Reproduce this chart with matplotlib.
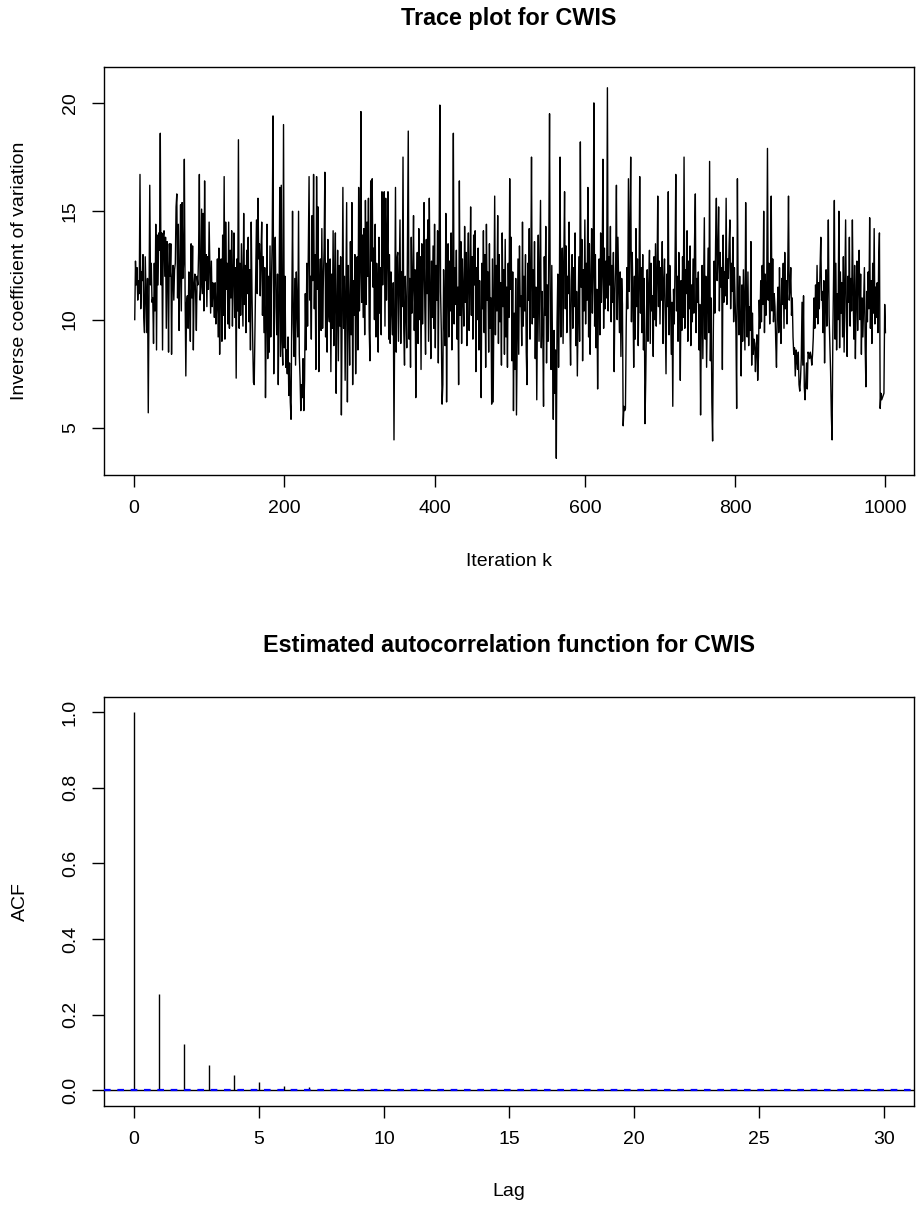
import numpy as np
import matplotlib
matplotlib.use("Agg")
import matplotlib.pyplot as plt

plt.rcParams['font.family'] = ['Liberation Sans', 'DejaVu Sans']

# trace of the inverse coefficient of variation, iterations 1..1000
trace = [
    10.0, 12.7, 11.6, 12.4, 10.9, 11.8, 11.2, 16.7, 10.5, 12.2,
    11.8, 13.0, 10.1, 9.4, 12.9, 11.1, 9.4, 11.9, 5.7, 11.3,
    16.2, 11.6, 12.6, 10.8, 11.0, 8.9, 12.6, 10.4, 14.4, 8.6,
    13.9, 11.6, 14.0, 13.2, 18.6, 11.6, 14.0, 8.6, 13.9, 14.1,
    12.0, 13.8, 9.6, 13.6, 12.4, 8.5, 13.5, 12.0, 13.5, 8.4,
    11.9, 12.5, 10.9, 12.3, 12.6, 15.2, 15.8, 11.0, 14.4, 9.5,
    12.1, 15.3, 10.4, 15.4, 11.9, 12.6, 17.4, 11.3, 7.4, 10.8,
    11.1, 9.6, 12.2, 10.9, 9.0, 13.5, 11.0, 13.4, 8.6, 11.6,
    12.1, 11.2, 9.5, 12.0, 11.6, 13.1, 16.7, 10.9, 11.5, 15.1,
    11.2, 14.9, 10.4, 16.4, 11.8, 13.0, 10.6, 12.9, 11.4, 14.5,
    12.4, 10.3, 12.7, 10.6, 11.7, 11.2, 10.1, 11.7, 9.8, 10.6,
    12.8, 9.2, 13.3, 8.4, 11.5, 12.8, 9.0, 13.9, 10.2, 16.6,
    9.1, 14.5, 11.4, 12.6, 9.8, 14.5, 9.6, 13.2, 11.0, 14.1,
    9.7, 12.1, 14.0, 10.1, 12.4, 7.3, 12.8, 10.4, 18.3, 9.6,
    12.6, 10.2, 13.5, 11.5, 9.7, 14.9, 10.7, 12.5, 9.4, 13.2,
    11.2, 13.8, 9.9, 12.3, 8.6, 14.5, 11.3, 9.0, 7.1, 7.0,
    9.6, 12.4, 14.6, 11.2, 15.6, 12.8, 13.5, 11.1, 13.0, 14.5,
    10.2, 12.9, 9.4, 12.4, 6.4, 9.8, 14.4, 8.2, 12.0, 8.5,
    13.4, 9.2, 11.8, 13.9, 19.4, 7.5, 12.7, 13.8, 10.6, 9.3,
    12.1, 7.0, 10.9, 16.1, 8.3, 16.2, 9.0, 7.9, 19.0, 8.7,
    12.0, 7.8, 8.6, 7.5, 9.2, 6.5, 8.0, 6.2, 5.4, 10.6,
    15.0, 9.8, 8.3, 11.9, 7.9, 12.2, 10.5, 9.2, 15.0, 8.4,
    7.3, 5.8, 7.0, 6.4, 8.2, 5.8, 7.2, 11.2, 8.6, 12.6,
    9.7, 13.4, 16.6, 10.9, 12.0, 9.1, 14.8, 11.8, 16.7, 10.5,
    13.0, 7.7, 16.6, 11.4, 15.2, 7.6, 11.3, 12.8, 9.5, 14.2,
    9.6, 11.8, 13.3, 16.8, 9.2, 12.6, 8.5, 13.7, 10.4, 9.9,
    12.8, 7.6, 12.1, 9.6, 14.1, 8.8, 11.2, 14.0, 6.6, 10.4,
    13.2, 8.1, 12.5, 9.7, 12.9, 5.6, 10.3, 16.1, 9.6, 12.0,
    7.2, 11.4, 15.4, 6.2, 12.5, 10.6, 7.9, 13.6, 9.3, 15.4,
    7.0, 11.8, 10.2, 13.0, 7.5, 10.8, 12.9, 8.6, 16.1, 10.4,
    12.2, 19.6, 10.8, 13.9, 10.1, 14.2, 9.3, 15.5, 10.7, 14.5,
    12.0, 15.6, 9.6, 8.1, 16.4, 12.7, 16.5, 11.5, 13.3, 10.0,
    14.4, 9.2, 12.6, 11.4, 8.5, 13.8, 10.3, 12.4, 9.3, 15.9,
    11.6, 14.2, 15.9, 9.7, 15.6, 10.9, 13.1, 15.9, 9.1, 13.0,
    8.9, 12.2, 10.5, 9.3, 11.7, 4.45, 10.2, 16.1, 8.5, 12.8,
    13.1, 9.0, 11.8, 14.6, 8.9, 12.2, 10.6, 17.5, 9.6, 7.9,
    12.0, 10.5, 8.7, 13.4, 18.7, 9.1, 11.9, 7.8, 13.8, 10.3,
    11.6, 14.8, 9.5, 12.3, 6.4, 11.2, 13.1, 8.9, 14.2, 10.0,
    12.9, 7.7, 13.5, 9.8, 12.1, 15.4, 10.6, 8.4, 13.7, 11.2,
    14.6, 9.0, 15.6, 11.4, 8.2, 12.7, 10.1, 13.4, 9.6, 14.4,
    8.7, 12.5, 10.9, 14.1, 8.0, 12.9, 19.9, 11.3, 9.4, 6.1,
    7.0, 12.3, 10.0, 8.8, 14.9, 6.2, 11.6, 13.5, 9.2, 12.7,
    10.4, 14.0, 8.6, 11.9, 18.6, 9.8, 12.4, 10.7, 13.2, 9.1,
    11.5, 7.0, 16.4, 10.2, 13.6, 8.9, 12.8, 11.1, 9.7, 14.3,
    10.8, 13.1, 8.8, 12.0, 14.0, 9.5, 11.4, 15.2, 10.2, 12.9,
    9.1, 13.9, 11.6, 14.1, 7.6, 12.4, 10.0, 13.3, 8.6, 11.8,
    9.9, 6.4, 12.6, 10.5, 14.1, 9.4, 13.0, 7.8, 14.4, 10.9,
    12.2, 8.5, 13.5, 9.6, 11.0, 6.1, 12.8, 6.2, 10.7, 15.7,
    9.3, 12.5, 10.4, 14.8, 8.9, 13.0, 9.9, 11.7, 7.9, 14.0,
    10.6, 12.3, 8.4, 13.7, 9.2, 11.5, 7.8, 12.6, 10.1, 16.5,
    11.4, 13.8, 8.1, 12.2, 5.8, 10.3, 7.7, 11.9, 5.6, 9.2,
    12.8, 8.4, 13.4, 10.6, 11.1, 8.8, 14.5, 9.7, 12.0, 10.4,
    13.0, 8.5, 7.0, 12.6, 10.9, 14.2, 9.1, 11.7, 17.5, 9.8,
    12.3, 10.1, 13.6, 8.2, 11.5, 6.3, 10.8, 13.9, 9.0, 12.4,
    15.5, 8.7, 11.3, 9.5, 6.0, 12.9, 10.2, 14.3, 8.0, 11.6,
    9.0, 13.2, 19.5, 10.1, 7.7, 12.5, 8.3, 5.4, 9.5, 6.6,
    8.6, 3.6, 9.9, 12.1, 7.8, 10.7, 17.5, 9.2, 11.9, 13.3,
    8.9, 12.7, 15.9, 10.5, 13.4, 9.4, 12.0, 11.2, 14.5, 10.0,
    7.9, 11.8, 13.0, 9.6, 12.4, 10.6, 14.0, 8.8, 11.3, 7.4,
    10.2, 12.9, 9.0, 18.2, 11.5, 13.7, 8.1, 12.3, 10.4, 14.6,
    9.8, 12.6, 10.9, 16.1, 9.2, 13.5, 8.4, 11.7, 14.2, 10.3,
    12.1, 20.0, 9.7, 13.0, 8.7, 11.4, 6.8, 10.6, 12.8, 9.3,
    14.0, 10.8, 12.2, 17.4, 9.6, 13.3, 10.5, 12.7, 11.0, 20.7,
    10.4, 12.9, 11.6, 14.3, 9.9, 12.5, 10.8, 13.1, 7.6, 11.2,
    12.6, 16.2, 10.0, 13.8, 11.5, 9.4, 12.2, 8.3, 11.9, 10.7,
    5.1, 6.0, 5.8, 5.9, 9.6, 12.4, 10.5, 16.5, 11.3, 13.6,
    17.5, 9.9, 13.1, 11.2, 7.8, 12.0, 9.1, 14.2, 10.6, 12.8,
    8.8, 11.5, 16.6, 10.3, 12.4, 9.4, 13.0, 8.6, 11.9, 5.2,
    7.2, 10.1, 12.3, 9.0, 11.6, 13.2, 8.9, 12.6, 10.4, 11.1,
    8.3, 12.9, 10.0, 13.5, 9.7, 11.8, 15.7, 10.6, 12.7, 9.8,
    12.4, 10.9, 13.6, 8.9, 11.7, 12.8, 10.2, 7.5, 12.1, 10.6,
    15.9, 9.3, 12.5, 11.0, 8.4, 10.8, 6.0, 11.4, 9.8, 12.6,
    16.7, 10.4, 12.0, 9.0, 13.1, 10.7, 7.2, 11.8, 9.5, 12.9,
    10.1, 17.5, 9.6, 12.3, 11.2, 14.1, 9.0, 12.7, 10.5, 13.4,
    8.8, 11.6, 9.9, 12.8, 10.3, 13.7, 15.8, 9.4, 11.9, 10.8,
    12.2, 8.6, 10.7, 5.6, 9.9, 12.5, 8.2, 11.4, 14.7, 9.1,
    12.0, 7.8, 10.6, 13.3, 9.4, 17.3, 8.1, 11.0, 6.2, 4.4,
    9.6, 12.7, 10.3, 13.6, 15.6, 11.8, 12.9, 15.2, 10.4, 13.1,
    11.5, 12.4, 7.7, 13.9, 10.8, 12.2, 11.1, 15.6, 10.7, 12.8,
    11.9, 13.5, 14.6, 10.5, 12.6, 11.3, 13.8, 9.9, 12.4, 10.8,
    9.6, 5.9, 16.5, 11.2, 9.3, 12.0, 10.1, 7.4, 11.6, 9.0,
    12.3, 10.4, 8.6, 15.4, 11.0, 9.2, 12.2, 8.8, 10.6, 9.5,
    13.6, 7.9, 10.3, 8.4, 9.1, 8.9, 7.6, 8.7, 9.3, 7.2,
    8.3, 10.9, 9.6, 11.8, 9.9, 12.5, 10.7, 15.0, 9.4, 12.1,
    10.2, 11.4, 17.9, 10.9, 12.6, 9.8, 11.7, 15.7, 10.4, 12.8,
    9.9, 11.2, 10.6, 9.0, 7.8, 10.3, 11.5, 9.4, 12.4, 10.1,
    8.9, 11.9, 10.7, 12.6, 9.6, 13.1, 10.5, 11.8, 9.8, 12.3,
    15.7, 10.9, 11.4, 12.4, 10.2, 11.0, 9.2, 8.4, 8.7, 7.4,
    8.6, 8.1, 7.7, 8.5, 7.0, 6.7, 7.3, 8.2, 10.8, 7.9,
    11.1, 6.9, 6.3, 7.1, 8.0, 6.8, 8.5, 8.4, 8.2, 8.5,
    8.3, 7.9, 8.4, 9.2, 11.0, 9.6, 11.6, 10.1, 12.5, 9.8,
    11.7, 10.5, 12.4, 13.8, 10.9, 11.3, 9.4, 11.8, 8.0, 10.6,
    12.3, 9.7, 11.5, 14.6, 10.2, 8.9, 7.6, 5.6, 4.45, 9.3,
    12.0, 15.5, 9.1, 12.6, 8.6, 11.2, 10.0, 15.0, 8.7, 12.2,
    10.3, 11.7, 9.2, 12.9, 8.5, 11.4, 14.6, 10.1, 8.3, 12.0,
    10.8, 13.8, 9.7, 11.9, 10.4, 14.6, 11.2, 9.1, 12.5, 8.2,
    10.9, 12.7, 9.5, 11.6, 13.2, 10.0, 12.1, 8.4, 11.0, 9.2,
    10.7, 12.4, 8.8, 6.9, 11.3, 9.9, 12.2, 10.5, 14.7, 9.6,
    11.8, 8.9, 12.6, 10.3, 14.2, 9.8, 11.5, 10.1, 11.7, 9.4,
    12.8, 14.0, 5.9, 6.6, 6.3, 6.4, 6.5, 6.6, 10.7, 9.4,
]
iterations = np.arange(1, len(trace) + 1)

# estimated autocorrelation, lags 0..30
lags = np.arange(0, 31)
acf = [1.0, 0.255, 0.121, 0.066, 0.039, 0.021, 0.012, 0.007, 0.004, 0.002,
       0.001, 0.001, 0.0, 0.0, 0.0, 0.0, 0.0, 0.0, 0.0, 0.0,
       0.0, 0.0, 0.0, 0.0, 0.0, 0.0, 0.0, 0.0, 0.0, 0.0, 0.0]
conf = 0.0

W, H = 916, 1205
fig = plt.figure(figsize=(W / 100, H / 100), dpi=100)

FS = 14
TFS = 16.8


def box_axes(left, top, right, bottom):
    ax = fig.add_axes([left / W, 1 - bottom / H, (right - left) / W, (bottom - top) / H])
    for s in ax.spines.values():
        s.set_linewidth(1.0)
        s.set_color('black')
    ax.tick_params(direction='out', length=8.6, width=1.0, labelsize=FS, pad=9.5)
    return ax


# trace plot
ax1 = box_axes(104, 66.5, 914, 475)
ax1.plot(iterations, trace, color='black', linewidth=1.0)
ax1.set_xlim(-39.9, 1038)
ax1.set_ylim(2.83, 21.68)
ax1.set_xticks([0, 200, 400, 600, 800, 1000])
ax1.set_yticks([5, 10, 15, 20])
ax1.set_yticklabels(['5', '10', '15', '20'], rotation=90, va='center')

fig.text(509 / W, 1 - 18.5 / H, 'Trace plot for CWIS', ha='center', va='center',
         fontsize=TFS, fontweight='bold')
fig.text(509 / W, 1 - 561 / H, 'Iteration k', ha='center', va='center', fontsize=FS)
fig.text(20 / W, 1 - 270.75 / H, 'Inverse coefficient of variation', ha='center',
         va='center', rotation=90, fontsize=FS)

# acf plot
ax2 = box_axes(104, 697, 914, 1106)
ax2.vlines(lags, 0, acf, color='black', linewidth=1.0)
ax2.axhline(0, color='black', linewidth=1.0)
ax2.axhline(conf, color='blue', linestyle=(0, (3, 3)), linewidth=1.6, zorder=3)
ax2.set_xlim(-1.2, 31.2)
ax2.set_ylim(-0.042, 1.04)
ax2.set_xticks([0, 5, 10, 15, 20, 25, 30])
ax2.set_yticks([0.0, 0.2, 0.4, 0.6, 0.8, 1.0])
ax2.set_yticklabels(['0.0', '0.2', '0.4', '0.6', '0.8', '1.0'], rotation=90, va='center')

fig.text(509 / W, 1 - 645 / H, 'Estimated autocorrelation function for CWIS', ha='center',
         va='center', fontsize=TFS, fontweight='bold')
fig.text(509 / W, 1 - 1191 / H, 'Lag', ha='center', va='center', fontsize=FS)
fig.text(20 / W, 1 - 901.5 / H, 'ACF', ha='center', va='center', rotation=90, fontsize=FS)

fig.savefig('out.png', dpi=100)
